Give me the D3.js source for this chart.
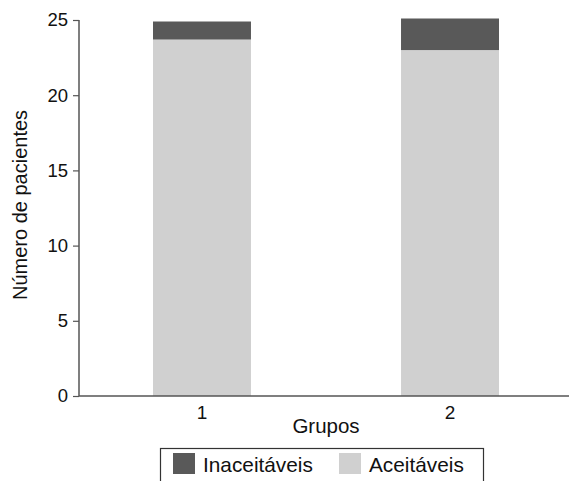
<!doctype html>
<html>
<head>
<meta charset="utf-8">
<script src="https://cdn.jsdelivr.net/npm/d3@7"></script>
<style>
  body { margin: 0; background: #fff; }
  svg text { font-family: "Liberation Sans", Arial, sans-serif; fill: #111; }
</style>
</head>
<body>
<script>
// data
var groups = ['1', '2'];
var aceitaveis = [23.7, 23.0];
var inaceitaveis = [1.2, 2.1];
var yTicks = [0, 5, 10, 15, 20, 25];
var seriesNames = ['Inaceitáveis', 'Aceitáveis'];
var seriesColors = ['#595959', '#d0d0d0'];

var width = 569, height = 481;
var plotLeft = 79, plotTop = 20, plotBottom = 396, plotRight = 569;

var svg = d3.select('body').append('svg')
  .attr('width', width)
  .attr('height', height);

var x = d3.scaleBand()
  .domain(groups)
  .range([153, 499])
  .paddingInner(0.605)
  .paddingOuter(0);

var y = d3.scaleLinear()
  .domain([0, 25])
  .range([plotBottom, plotTop]);

var rows = groups.map(function (g, i) {
  return { group: g, 'Aceitáveis': aceitaveis[i], 'Inaceitáveis': inaceitaveis[i] };
});

var layers = d3.stack().keys(['Aceitáveis', 'Inaceitáveis'])(rows);

var color = d3.scaleOrdinal().domain(seriesNames).range(seriesColors);

svg.selectAll('g.layer')
  .data(layers)
  .enter()
  .append('g')
  .attr('class', 'layer')
  .attr('fill', function (d) { return color(d.key); })
  .selectAll('rect')
  .data(function (d) { return d; })
  .enter()
  .append('rect')
  .attr('x', function (d) { return x(d.data.group); })
  .attr('width', x.bandwidth())
  .attr('y', function (d) { return y(d[1]); })
  .attr('height', function (d) { return y(d[0]) - y(d[1]); });

// y axis
var yAxis = svg.append('g')
  .attr('transform', 'translate(' + plotLeft + ',0)')
  .call(d3.axisLeft(y).tickValues(yTicks).tickSize(6).tickPadding(5));
yAxis.select('.domain').attr('stroke', '#555').attr('stroke-width', 1.5)
  .attr('d', 'M0,' + plotTop + 'V' + plotBottom);
yAxis.selectAll('.tick line').attr('stroke', '#555').attr('stroke-width', 1.2);
yAxis.selectAll('.tick text').style('font-size', '18.5px').attr('fill', '#111');

// x axis
var xAxis = svg.append('g')
  .attr('transform', 'translate(0,' + plotBottom + ')')
  .call(d3.axisBottom(x).tickSize(0).tickPadding(10));
xAxis.select('.domain').attr('stroke', '#555').attr('stroke-width', 1.5)
  .attr('d', 'M' + plotLeft + ',0H' + plotRight);
xAxis.selectAll('.tick text').style('font-size', '19px').attr('fill', '#111');

// axis titles
svg.append('text')
  .attr('x', 326)
  .attr('y', 433)
  .attr('text-anchor', 'middle')
  .style('font-size', '20.5px')
  .text('Grupos');

svg.append('text')
  .attr('transform', 'translate(27,205) rotate(-90)')
  .attr('text-anchor', 'middle')
  .style('font-size', '20px')
  .text('Número de pacientes');

// legend
var legend = svg.append('g');
legend.append('rect')
  .attr('x', 160.5).attr('y', 448.5)
  .attr('width', 323).attr('height', 40)
  .attr('fill', 'none')
  .attr('stroke', '#333')
  .attr('stroke-width', 1.2);

var legendX = [173, 339];
seriesNames.forEach(function (name, i) {
  legend.append('rect')
    .attr('x', legendX[i]).attr('y', 453)
    .attr('width', 22).attr('height', 21)
    .attr('fill', color(name));
  legend.append('text')
    .attr('x', legendX[i] + 30).attr('y', 472)
    .style('font-size', '20.8px')
    .text(name);
});
</script>
</body>
</html>
